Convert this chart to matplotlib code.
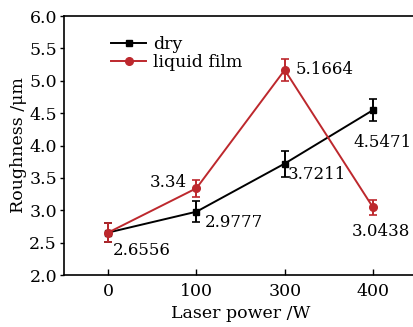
import numpy as np
import matplotlib.pyplot as plt

plt.rcParams['font.family'] = ['DejaVu Serif']

# data
power = ['0', '100', '300', '400']
dry = [2.6556, 2.9777, 3.7211, 4.5471]
dry_err = [0.15, 0.16, 0.20, 0.17]
liquid = [2.6556, 3.34, 5.1664, 3.0438]
liquid_err = [0.15, 0.13, 0.17, 0.12]
dry_lbl = ['2.6556', '2.9777', '3.7211', '4.5471']
liq_lbl = ['', '3.34', '5.1664', '3.0438']

red = '#bd282d'
x = np.arange(len(power))

fig = plt.figure(figsize=(4.14, 3.27), dpi=100)
ax = fig.add_axes([0.1546, 0.159, 0.853, 0.792])

c1 = ax.errorbar(x, dry, yerr=dry_err, color='black', marker='s', markersize=5,
                 lw=1.4, capsize=3, elinewidth=1.4, capthick=1.2)
c2 = ax.errorbar(x, liquid, yerr=liquid_err, color=red, marker='o', markersize=5.5,
                 lw=1.4, capsize=3, elinewidth=1.4, capthick=1.2)

# value labels (offsets in pixels)
dry_off = [(5, -18, 'left'), (8, -11, 'left'), (3, -11, 'left'), (10, -32, 'center')]
liq_off = [(0, 0, 'left'), (-10, 6, 'right'), (11, 0, 'left'), (8, -24, 'center')]
for i in range(len(x)):
    dx, dy, ha = dry_off[i]
    ax.annotate(dry_lbl[i], (x[i], dry[i]), xytext=(dx, dy), textcoords='offset pixels',
                ha=ha, va='center', fontsize=12)
    if liq_lbl[i]:
        dx, dy, ha = liq_off[i]
        ax.annotate(liq_lbl[i], (x[i], liquid[i]), xytext=(dx, dy), textcoords='offset pixels',
                    ha=ha, va='center', fontsize=12)

ax.set_xlim(-0.5, 3.5)
ax.set_ylim(2.0, 6.0)
ax.set_xticks(x)
ax.set_xticklabels(power)
yt = np.arange(2.0, 6.01, 0.5)
ax.set_yticks(yt)
ax.set_yticklabels(['%.1f' % v for v in yt])
ax.tick_params(axis='x', direction='in', length=4, width=1, labelsize=12.5, pad=6)
ax.tick_params(axis='y', direction='out', length=3, width=1, labelsize=12.5, pad=2)
ax.spines['right'].set_visible(False)
for s in ['left', 'top', 'bottom']:
    ax.spines[s].set_linewidth(1.2)

ax.set_xlabel('Laser power /W', fontsize=12.5, labelpad=3)
ax.set_ylabel('Roughness /μm', fontsize=12.5, labelpad=2)

ax.legend([c1.lines[0], c2.lines[0]], ['dry', 'liquid film'], loc='upper left',
          bbox_to_anchor=(0.1, 0.97), frameon=False, fontsize=12.5,
          handlelength=2.0, handletextpad=0.4, labelspacing=0.05, borderpad=0.2)

plt.savefig('out.png', dpi=100)
